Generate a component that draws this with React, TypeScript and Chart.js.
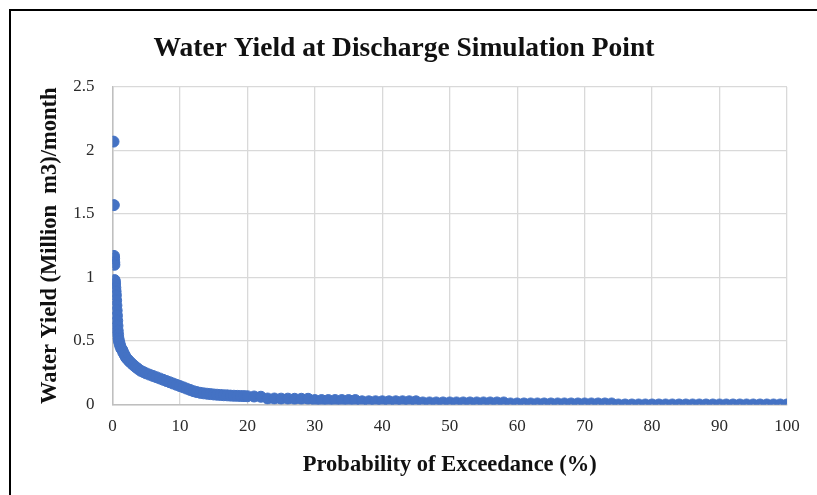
import React, { useEffect, useRef } from 'react';
import { Chart, registerables } from 'chart.js';

Chart.register(...registerables);

// Probability of exceedance (%) of each plotted month
const probability: number[] = [
  0.15, 0.2, 0.22, 0.24, 0.26, 0.28,
  0.3, 0.34, 0.38, 0.42, 0.46, 0.5, 0.54, 0.58, 0.62, 0.66, 0.7, 0.74, 0.78, 0.83, 0.88,
  0.95, 1.05, 1.15, 1.3, 1.45, 1.6, 1.8, 2.0, 2.25, 2.5, 2.8, 3.1, 3.45, 3.8, 4.2, 4.6, 5.0, 5.5,
  6, 6.5, 7, 7.5, 8, 8.5, 9, 9.5, 10, 10.5, 11, 11.5, 12, 12.5, 13,
  13.5, 14, 14.5, 15, 15.5, 16, 16.5, 17, 17.5, 18, 18.5, 19, 19.5, 20,
  21, 22, 23, 24, 25, 26, 27, 28, 29, 30,
  31, 32, 33, 34, 35, 36, 37, 38, 39, 40,
  41, 42, 43, 44, 45, 46, 47, 48, 49, 50,
  51, 52, 53, 54, 55, 56, 57, 58, 59, 60,
  61, 62, 63, 64, 65, 66, 67, 68, 69, 70,
  71, 72, 73, 74, 75, 76, 77, 78, 79, 80,
  81, 82, 83, 84, 85, 86, 87, 88, 89, 90,
  91, 92, 93, 94, 95, 96, 97, 98, 99, 100,
];

// Water yield (Million m3 / month)
const waterYield: number[] = [
  2.07, 1.57, 1.17, 1.15, 1.12, 1.1,
  0.98, 0.97, 0.95, 0.92, 0.89, 0.86, 0.82, 0.78, 0.74, 0.7, 0.66, 0.62, 0.58, 0.55, 0.52,
  0.5, 0.48, 0.46, 0.44, 0.43, 0.41, 0.39, 0.37, 0.355, 0.34, 0.325, 0.31, 0.295, 0.28, 0.265, 0.255, 0.245, 0.235,
  0.225, 0.215, 0.205, 0.195, 0.185, 0.175, 0.165, 0.155, 0.145, 0.135, 0.125, 0.115, 0.105, 0.098, 0.092,
  0.088, 0.085, 0.082, 0.079, 0.077, 0.075, 0.073, 0.072, 0.07, 0.069, 0.068, 0.067, 0.066, 0.065,
  0.063, 0.061, 0.047, 0.047, 0.046, 0.046, 0.045, 0.045, 0.045, 0.035,
  0.035, 0.035, 0.035, 0.035, 0.035, 0.035, 0.025, 0.025, 0.025, 0.025,
  0.025, 0.025, 0.025, 0.025, 0.025, 0.016, 0.016, 0.016, 0.016, 0.016,
  0.016, 0.016, 0.016, 0.016, 0.016, 0.016, 0.016, 0.016, 0.008, 0.008,
  0.008, 0.008, 0.008, 0.008, 0.008, 0.008, 0.008, 0.008, 0.008, 0.008,
  0.008, 0.008, 0.008, 0.008, 0, 0, 0, 0, 0, 0,
  0, 0, 0, 0, 0, 0, 0, 0, 0, 0,
  0, 0, 0, 0, 0, 0, 0, 0, 0, 0,
];

const xAxisRange = [0, 100];
const xAxisStep = 10;
const yAxisRange = [0, 2.5];
const yAxisStep = 0.5;

const chartTitle = 'Water Yield at Discharge Simulation Point';
const xTitle = 'Probability of Exceedance (%)';
const yTitle = 'Water Yield (Million  m3)/month';

const SERIF = "'Liberation Serif', 'Times New Roman', Times, serif";
const BLUE = '#4472C4';

export default function App() {
  const ref = useRef<HTMLCanvasElement>(null);

  useEffect(() => {
    const points = probability.map((p, i) => ({ x: p, y: waterYield[i] }));
    const tickFont = { family: SERIF, size: 17 };
    const chart = new Chart(ref.current as HTMLCanvasElement, {
      type: 'scatter',
      data: {
        datasets: [
          {
            data: points,
            backgroundColor: BLUE,
            borderColor: BLUE,
            borderWidth: 1,
            pointRadius: 5.5,
            pointHoverRadius: 5.5,
          },
        ],
      },
      options: {
        animation: false,
        responsive: false,
        events: [],
        layout: { padding: { left: 21, right: 30, top: 0, bottom: 0 } },
        plugins: {
          legend: { display: false },
          tooltip: { enabled: false },
          title: {
            display: true,
            text: chartTitle,
            color: '#111',
            font: { family: SERIF, size: 27.5, weight: 'bold' },
            padding: { top: 32.5, bottom: 21.5 },
          },
        },
        scales: {
          x: {
            type: 'linear',
            min: xAxisRange[0],
            max: xAxisRange[1],
            ticks: {
              stepSize: xAxisStep,
              padding: 12,
              font: tickFont,
              color: '#2a2a2a',
              callback: (v: any) => String(v),
            },
            grid: { color: '#D9D9D9', lineWidth: 1.3, drawTicks: false },
            border: { color: '#BFBFBF', width: 1.5 },
            title: {
              display: true,
              text: xTitle,
              color: '#111',
              font: { family: SERIF, size: 22.5, weight: 'bold' },
              padding: { top: 0, bottom: 16.5 },
            },
            afterFit: (s: any) => {
              s.height = 90.5;
            },
          },
          y: {
            type: 'linear',
            min: yAxisRange[0],
            max: yAxisRange[1],
            ticks: {
              stepSize: yAxisStep,
              padding: 18,
              font: tickFont,
              color: '#2a2a2a',
              callback: (v: any) => String(v),
            },
            grid: { color: '#D9D9D9', lineWidth: 1.3, drawTicks: false },
            border: { color: '#BFBFBF', width: 1.5 },
            title: {
              display: true,
              text: yTitle,
              color: '#111',
              font: { family: SERIF, size: 22.5, weight: 'bold' },
              padding: { top: 15.5, bottom: 0 },
            },
            afterFit: (s: any) => {
              s.width = 91.5;
            },
          },
        },
      },
    });
    return () => chart.destroy();
  }, []);

  return (
    <div
      style={{
        position: 'absolute',
        left: 0,
        top: 0,
        width: 817,
        height: 495,
        overflow: 'hidden',
        background: '#fff',
      }}
    >
      <canvas ref={ref} width={817} height={495} style={{ display: 'block' }} />
      <div
        style={{
          position: 'absolute',
          left: 9,
          top: 9,
          width: 900,
          height: 600,
          borderTop: '2px solid #000',
          borderLeft: '2px solid #000',
          pointerEvents: 'none',
        }}
      />
    </div>
  );
}
